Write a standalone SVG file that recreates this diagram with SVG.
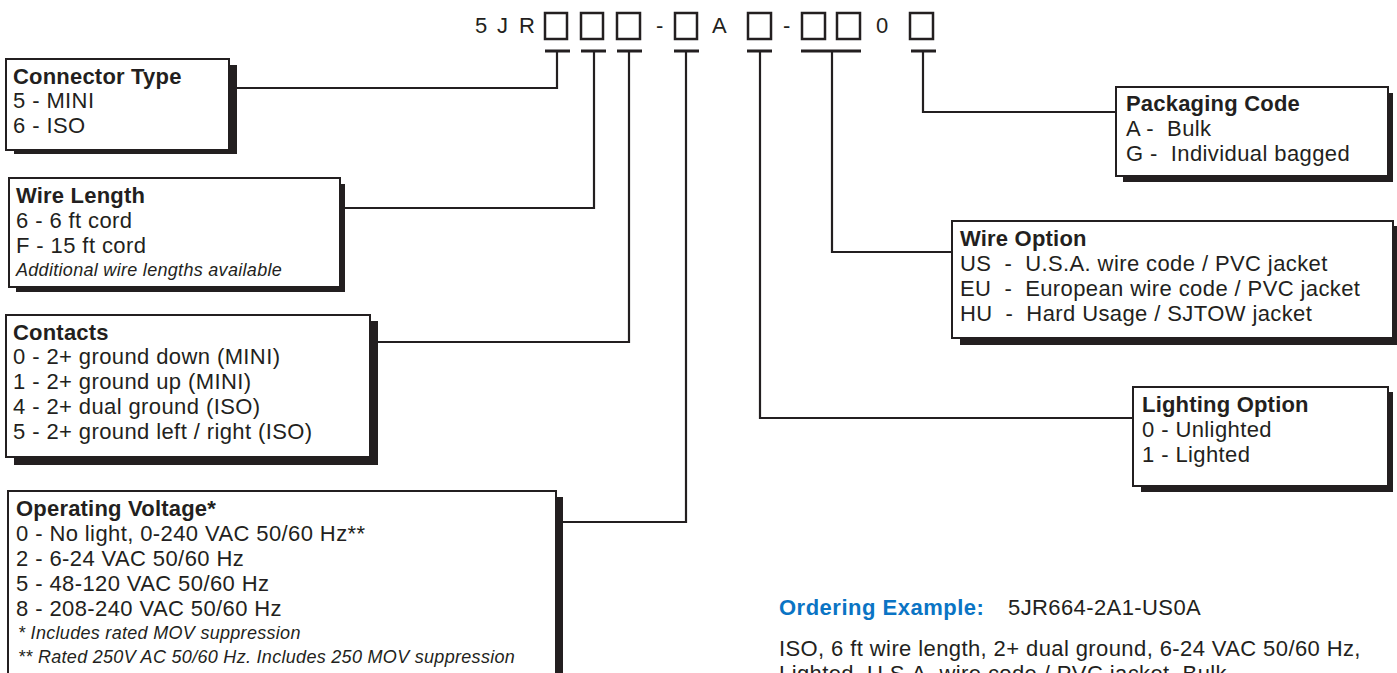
<svg xmlns="http://www.w3.org/2000/svg" width="1397" height="673" viewBox="0 0 1397 673">
<style>
text{font-family:"Liberation Sans",Arial,sans-serif;fill:#231f20;}
.t{font-size:22px;letter-spacing:0.4px;}
.h{font-size:22px;font-weight:bold;letter-spacing:0.2px;}
.i{font-size:18px;font-style:italic;letter-spacing:0.3px;}
.code{font-size:22px;}
.box{fill:#fff;stroke:#231f20;stroke-width:2;}
.sh{fill:#231f20;}
.slot{fill:none;stroke:#231f20;stroke-width:2.5;}
.ln{fill:none;stroke:#231f20;stroke-width:2.2;}
.bar{stroke:#231f20;stroke-width:3;}
.blue{fill:#0a74c4;font-weight:bold;font-size:22px;letter-spacing:0.5px;}
</style>
<g id="code">
<text class="code" x="475" y="33">5</text>
<text class="code" x="497" y="33">J</text>
<text class="code" x="519" y="33">R</text>
<rect class="slot" x="545" y="13" width="22" height="26"/>
<rect class="slot" x="581" y="13" width="22" height="26"/>
<rect class="slot" x="617" y="13" width="23" height="26"/>
<text class="code" x="656" y="33">-</text>
<rect class="slot" x="675" y="13" width="22" height="26"/>
<text class="code" x="712" y="33">A</text>
<rect class="slot" x="748" y="13" width="23" height="26"/>
<text class="code" x="783" y="33">-</text>
<rect class="slot" x="802" y="13" width="23" height="26"/>
<rect class="slot" x="837" y="13" width="23" height="26"/>
<text class="code" x="876" y="33">0</text>
<rect class="slot" x="910" y="13" width="23" height="26"/>
</g>
<g id="connectors">
<line class="bar" x1="545" y1="51" x2="570" y2="51"/>
<line class="bar" x1="581" y1="51" x2="606" y2="51"/>
<line class="bar" x1="617" y1="51" x2="642" y2="51"/>
<line class="bar" x1="674" y1="51" x2="699" y2="51"/>
<line class="bar" x1="747" y1="51" x2="772" y2="51"/>
<line class="bar" x1="801" y1="51" x2="861" y2="51"/>
<line class="bar" x1="911" y1="51" x2="936" y2="51"/>
<polyline class="ln" points="557,51 557,88 236,88"/>
<polyline class="ln" points="594,51 594,208 344,208"/>
<polyline class="ln" points="629,51 629,342 377,342"/>
<polyline class="ln" points="686,51 686,522 562,522"/>
<polyline class="ln" points="760,51 760,418 1133,418"/>
<polyline class="ln" points="832,51 832,252 952,252"/>
<polyline class="ln" points="923,51 923,112 1116,112"/>
</g>
<g id="connector-type">
<rect class="sh" x="14" y="65" width="223" height="89"/>
<rect class="box" x="6" y="59" width="223" height="91"/>
<text class="h" x="13" y="84">Connector Type</text>
<text class="t" x="13" y="108">5 - MINI</text>
<text class="t" x="13" y="133">6 - ISO</text>
</g>
<g id="wire-length">
<rect class="sh" x="16" y="184" width="329" height="108"/>
<rect class="box" x="9" y="178" width="331" height="109"/>
<text class="h" x="16" y="203">Wire Length</text>
<text class="t" x="16" y="228">6 - 6 ft cord</text>
<text class="t" x="16" y="253">F - 15 ft cord</text>
<text class="i" x="16" y="276">Additional wire lengths available</text>
</g>
<g id="contacts">
<rect class="sh" x="14" y="321" width="364" height="144"/>
<rect class="box" x="6" y="315" width="364" height="142"/>
<text class="h" x="13" y="340">Contacts</text>
<text class="t" x="13" y="364">0 - 2+ ground down (MINI)</text>
<text class="t" x="13" y="389">1 - 2+ ground up (MINI)</text>
<text class="t" x="13" y="414">4 - 2+ dual ground (ISO)</text>
<text class="t" x="13" y="439">5 - 2+ ground left / right (ISO)</text>
</g>
<g id="operating-voltage">
<rect class="sh" x="16" y="497" width="547" height="190"/>
<rect class="box" x="8" y="491" width="548" height="195"/>
<text class="h" x="16" y="516">Operating Voltage*</text>
<text class="t" x="16" y="541">0 - No light, 0-240 VAC 50/60 Hz**</text>
<text class="t" x="16" y="566">2 - 6-24 VAC 50/60 Hz</text>
<text class="t" x="16" y="591">5 - 48-120 VAC 50/60 Hz</text>
<text class="t" x="16" y="616">8 - 208-240 VAC 50/60 Hz</text>
<text class="i" x="18" y="639">* Includes rated MOV suppression</text>
<text class="i" x="18" y="663">** Rated 250V AC 50/60 Hz. Includes 250 MOV suppression</text>
</g>
<g id="packaging-code">
<rect class="sh" x="1123" y="93" width="270" height="89"/>
<rect class="box" x="1116" y="87" width="272" height="89"/>
<text class="h" x="1126" y="111">Packaging Code</text>
<text class="t" x="1126" y="136" xml:space="preserve">A -  Bulk</text>
<text class="t" x="1126" y="161" xml:space="preserve">G -  Individual bagged</text>
</g>
<g id="wire-option">
<rect class="sh" x="960" y="226" width="440" height="119"/>
<rect class="box" x="952" y="221" width="441" height="117"/>
<text class="h" x="960" y="246">Wire Option</text>
<text class="t" x="960" y="271" xml:space="preserve">US  -  U.S.A. wire code / PVC jacket</text>
<text class="t" x="960" y="296" xml:space="preserve">EU  -  European wire code / PVC jacket</text>
<text class="t" x="960" y="321" xml:space="preserve">HU  -  Hard Usage / SJTOW jacket</text>
</g>
<g id="lighting-option">
<rect class="sh" x="1141" y="392" width="252" height="100"/>
<rect class="box" x="1133" y="387" width="255" height="99"/>
<text class="h" x="1142" y="412">Lighting Option</text>
<text class="t" x="1142" y="437">0 - Unlighted</text>
<text class="t" x="1142" y="462">1 - Lighted</text>
</g>
<g id="ordering-example">
<text x="779" y="615"><tspan class="blue">Ordering Example:</tspan><tspan class="t" x="1008">5JR664-2A1-US0A</tspan></text>
<text class="t" x="779" y="656">ISO, 6 ft wire length, 2+ dual ground, 6-24 VAC 50/60 Hz,</text>
<text class="t" x="779" y="681">Lighted, U.S.A. wire code / PVC jacket, Bulk</text>
</g>
</svg>
